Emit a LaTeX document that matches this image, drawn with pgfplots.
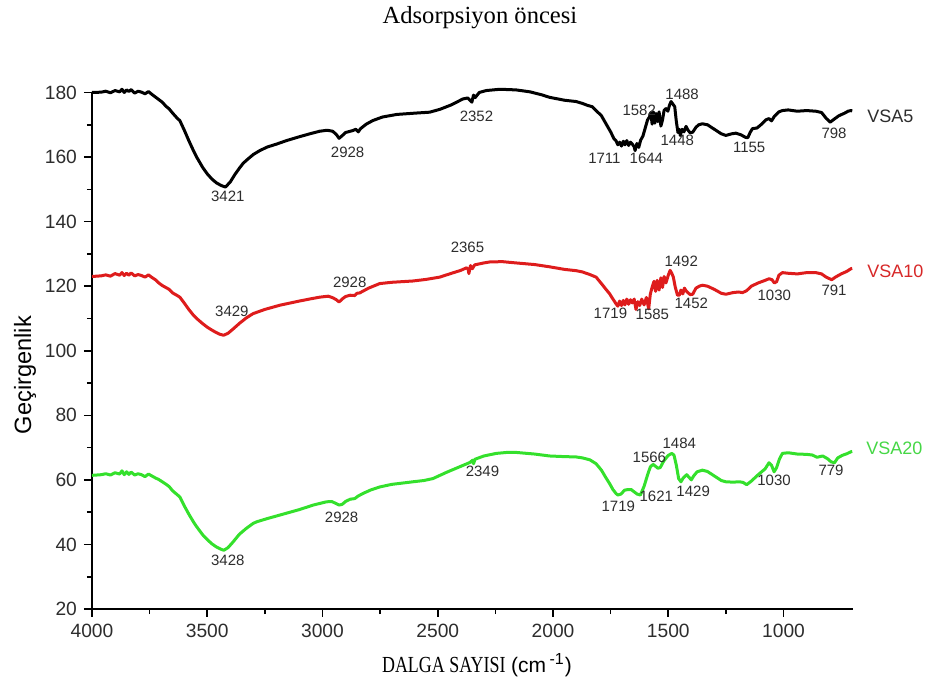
\documentclass[border=0pt]{standalone}
\usepackage{fontspec}
\setmainfont{Liberation Sans}
\newfontfamily\timesfont{Liberation Serif}
\usepackage{graphicx}
\usepackage{pgfplots}
\usepackage{pgfplotstable}
\pgfplotsset{compat=1.18}

\definecolor{specred}{RGB}{222,28,28}
\definecolor{specgreen}{RGB}{52,224,44}
\definecolor{labgreen}{RGB}{70,215,70}
\definecolor{labred}{RGB}{215,40,40}
\definecolor{labgray}{RGB}{45,45,45}

% FTIR spectrum, sample VSA5 (wavenumber, transmittance)
\pgfplotstableread{
wn T
4000 180.0
3960 180.1
3940 180.4
3920 179.9
3900 180.6
3880 180.2
3870 181.0
3860 180.0
3850 180.8
3840 180.3
3830 180.9
3815 179.8
3800 180.4
3785 180.1
3770 179.6
3755 180.3
3740 179.4
3725 178.6
3710 177.8
3695 177.0
3680 175.8
3665 174.9
3650 173.6
3640 172.8
3630 172.0
3619 171.3
3600 168.4
3580 165.1
3560 162.0
3546 160.0
3520 156.8
3500 154.8
3480 153.2
3460 152.0
3440 151.2
3421 150.7
3400 152.3
3380 154.6
3360 156.6
3345 158.0
3330 159.0
3300 160.8
3272 162.0
3240 163.1
3200 164.0
3156 165.1
3100 166.3
3050 167.3
3012 168.0
2980 168.3
2956 168.0
2940 167.0
2928 165.8
2915 166.6
2900 167.6
2869 168.2
2855 168.6
2845 167.8
2835 168.8
2810 170.2
2782 171.3
2740 172.4
2678 173.2
2600 173.6
2535 173.9
2490 174.8
2440 176.2
2391 178.0
2370 178.3
2360 177.6
2352 177.0
2345 179.2
2338 178.4
2320 180.0
2290 180.6
2230 181.0
2160 180.8
2100 180.2
2050 179.3
2015 178.5
1950 177.6
1900 177.2
1872 176.6
1850 176.0
1830 175.6
1813 174.4
1790 172.8
1770 170.3
1750 167.8
1735 165.6
1727 165.1
1719 163.8
1711 164.6
1703 163.4
1695 164.9
1688 163.8
1680 165.1
1672 163.6
1664 164.6
1656 164.0
1648 163.2
1644 162.0
1636 164.2
1628 163.0
1620 165.2
1610 166.5
1600 169.0
1590 171.5
1582 172.4
1576 173.8
1570 170.2
1565 174.0
1558 170.5
1553 173.5
1546 171.0
1540 174.0
1532 169.6
1525 171.5
1518 174.5
1510 175.0
1502 174.2
1495 176.0
1488 177.2
1480 176.4
1472 175.6
1465 171.0
1458 167.6
1452 168.6
1448 166.7
1440 168.6
1432 167.8
1423 169.5
1415 168.4
1405 167.5
1394 167.7
1380 169.2
1368 170.0
1352 170.3
1330 170.0
1300 168.6
1270 167.2
1250 166.7
1225 167.2
1207 167.4
1185 166.9
1165 166.1
1155 166.0
1145 167.6
1135 168.8
1115 169.0
1095 170.2
1075 171.6
1063 171.9
1052 171.2
1040 172.6
1020 174.0
1005 174.4
980 174.6
940 174.2
900 174.4
860 174.2
835 173.8
815 172.0
798 170.8
785 171.5
760 172.8
735 173.6
720 174.2
708 174.4
702 174.3
}\vsafive

% sample VSA10
\pgfplotstableread{
wn T
4000 123.0
3960 123.2
3940 123.5
3920 123.1
3900 123.9
3880 123.4
3870 124.2
3860 123.3
3850 124.0
3840 123.4
3830 124.1
3815 123.2
3800 123.6
3785 123.3
3770 122.8
3755 123.5
3740 122.7
3725 122.0
3710 121.0
3695 120.2
3680 119.6
3665 119.0
3650 117.9
3635 117.3
3619 116.6
3600 114.8
3580 112.8
3560 111.0
3546 110.0
3520 108.4
3500 107.3
3480 106.4
3460 105.6
3445 105.1
3429 104.8
3410 105.4
3390 106.6
3360 108.5
3330 110.2
3301 111.5
3250 112.8
3185 114.1
3100 115.4
3050 116.1
3012 116.6
2975 116.9
2955 116.4
2940 115.8
2928 115.1
2915 116.0
2900 116.8
2880 117.2
2860 117.1
2850 117.8
2839 117.9
2800 119.4
2752 120.8
2700 121.2
2609 121.6
2550 122.1
2492 122.8
2440 124.0
2400 124.9
2375 125.7
2368 125.2
2365 123.9
2358 126.4
2350 125.4
2340 126.6
2300 127.2
2275 127.5
2220 127.6
2160 127.2
2080 126.7
2015 126.0
1950 125.2
1900 124.8
1872 124.4
1840 123.6
1813 122.8
1790 120.8
1770 119.0
1755 117.7
1740 116.0
1727 114.6
1719 113.8
1711 115.4
1703 114.0
1695 115.6
1688 114.2
1680 116.0
1672 114.4
1664 115.8
1656 114.8
1648 116.0
1640 112.8
1632 115.2
1624 114.0
1615 116.0
1605 114.2
1595 116.5
1585 113.0
1578 117.5
1570 119.7
1562 121.5
1555 118.4
1548 121.8
1540 118.8
1532 122.6
1525 119.6
1518 123.0
1510 121.0
1500 123.4
1492 124.9
1485 124.0
1478 122.8
1470 119.8
1460 117.2
1452 117.2
1445 118.8
1437 117.6
1430 119.4
1423 118.6
1415 118.0
1405 117.4
1394 117.5
1380 119.4
1365 120.0
1352 120.3
1330 120.0
1300 119.0
1270 117.8
1250 117.5
1220 118.0
1195 118.2
1178 118.0
1160 118.6
1140 120.0
1110 121.0
1080 121.8
1063 122.3
1050 122.0
1040 121.0
1030 121.4
1020 123.4
1005 124.2
980 124.0
940 123.8
900 124.2
860 124.2
835 123.8
815 122.8
791 122.0
775 122.8
750 123.8
725 124.6
708 125.4
702 125.5
}\vsaten

% sample VSA20
\pgfplotstableread{
wn T
4000 61.4
3960 61.6
3940 61.9
3920 61.5
3900 62.2
3880 61.8
3870 62.8
3860 61.6
3850 62.5
3840 61.7
3830 62.4
3815 61.5
3800 61.9
3785 61.6
3770 61.0
3755 61.8
3740 61.2
3725 60.6
3710 60.1
3695 59.4
3680 58.7
3665 57.9
3650 56.6
3640 56.0
3630 55.4
3619 54.7
3600 52.0
3580 49.4
3560 47.0
3546 45.5
3520 43.0
3500 41.5
3480 40.2
3460 39.2
3440 38.5
3428 38.2
3410 39.0
3390 40.6
3360 43.2
3330 45.0
3301 46.5
3286 47.0
3240 48.0
3185 49.1
3100 50.8
3040 52.2
2983 53.2
2960 53.3
2945 52.8
2928 52.2
2915 52.4
2900 53.3
2880 54.0
2860 54.2
2845 55.0
2824 55.8
2790 56.9
2752 57.8
2700 58.6
2608 59.4
2560 59.8
2521 60.4
2460 62.4
2400 64.2
2360 65.4
2349 66.1
2345 65.0
2338 66.4
2300 67.4
2246 68.2
2200 68.5
2160 68.5
2080 68.0
2015 67.4
1950 67.2
1900 67.1
1872 66.8
1840 66.2
1813 65.0
1790 63.0
1770 60.6
1755 58.9
1740 57.0
1727 55.8
1719 55.3
1705 55.6
1690 56.8
1675 57.0
1661 57.0
1650 56.4
1635 55.6
1621 55.3
1605 58.0
1590 61.5
1578 64.0
1566 64.8
1555 64.2
1545 63.6
1535 63.8
1520 65.8
1500 67.6
1484 68.2
1475 67.6
1465 64.5
1455 60.4
1445 59.4
1435 60.6
1420 61.6
1410 60.8
1400 60.0
1390 61.2
1375 62.5
1352 63.0
1330 62.6
1300 61.2
1270 59.8
1250 59.4
1220 59.3
1190 59.4
1175 59.2
1160 58.5
1140 59.6
1110 61.6
1080 63.4
1063 65.3
1052 64.5
1041 62.5
1030 63.8
1018 66.4
1005 68.2
980 68.4
940 68.0
900 67.9
875 67.7
855 67.0
830 67.4
810 66.6
794 65.6
779 65.3
765 66.8
745 67.6
725 68.1
708 68.7
702 68.8
}\vsatwenty

\begin{document}
\begin{tikzpicture}
\path[use as bounding box] (-46pt,-40pt) rectangle (417.5pt,304.5pt);
\begin{axis}[
  at={(0,0)}, anchor=south west,
  scale only axis, width=380.35pt, height=258.25pt,
  x dir=reverse,
  xmin=700, xmax=4000, ymin=20, ymax=180,
  axis x line*=bottom, axis y line*=left,
  axis line style={line width=0.9pt, -},
  xtick={1000,1500,...,4000}, ytick={20,40,...,180},
  minor x tick num=1, minor y tick num=1,
  tick align=outside,
  major tick length=4pt, minor tick length=2.6pt,
  tick style={line width=0.8pt, black},
  ticklabel style={font=\fontsize{9.6}{10}\selectfont, text=labgray},
  /pgf/number format/assume math mode=true,
  /pgf/number format/1000 sep={},
  clip=false,
]
\addplot[black, line width=1.5pt, line join=round] table[x=wn, y=T] {\vsafive};
\addplot[specred, line width=1.5pt, line join=round] table[x=wn, y=T] {\vsaten};
\addplot[specgreen, line width=1.5pt, line join=round] table[x=wn, y=T] {\vsatwenty};

% peak labels
\begin{scope}[every node/.style={font=\fontsize{7.5}{8}\selectfont, text=labgray, inner sep=0pt}]
\node at (axis cs:3411,147.9) {3421};
\node at (axis cs:2891,161.6) {2928};
\node at (axis cs:2332,172.7) {2352};
\node at (axis cs:1777,159.7) {1711};
\node at (axis cs:1595,159.7) {1644};
\node at (axis cs:1626,174.6) {1582};
\node at (axis cs:1440,179.5) {1488};
\node at (axis cs:1461,165.3) {1448};
\node at (axis cs:1149,163.1) {1155};
\node at (axis cs:781,167.5) {798};

\node at (axis cs:3393,112.3) {3429};
\node at (axis cs:2882,121.3) {2928};
\node at (axis cs:2371,132.1) {2365};
\node at (axis cs:1444,127.7) {1492};
\node at (axis cs:1751,111.6) {1719};
\node at (axis cs:1569,111.3) {1585};
\node at (axis cs:1400,114.8) {1452};
\node at (axis cs:1040,117.3) {1030};
\node at (axis cs:781,118.8) {791};

\node at (axis cs:3411,35.2) {3428};
\node at (axis cs:2917,48.5) {2928};
\node at (axis cs:2306,62.5) {2349};
\node at (axis cs:1582,66.9) {1566};
\node at (axis cs:1452,71.2) {1484};
\node at (axis cs:1717,51.9) {1719};
\node at (axis cs:1552,55.0) {1621};
\node at (axis cs:1392,56.6) {1429};
\node at (axis cs:1041,59.7) {1030};
\node at (axis cs:794,62.8) {779};
\end{scope}

% sample names
\begin{scope}[every node/.style={font=\fontsize{9}{10}\selectfont, anchor=west, inner sep=0pt}]
\node[text=labgray] at (axis cs:638,172.5) {VSA5};
\node[text=labred] at (axis cs:638,124.5) {VSA10};
\node[text=labgreen] at (axis cs:642,69.9) {VSA20};
\end{scope}

% title and axis titles
\node[font=\timesfont\fontsize{12.3}{13}\selectfont] at (rel axis cs:0.51,1.144) {Adsorpsiyon öncesi};
\path (rel axis cs:0,0.453) ++(-33.5pt,0pt) node[rotate=90, font=\fontsize{11.8}{12}\selectfont] {Geçirgenlik};
\path (rel axis cs:0.506,0) ++(0pt,-28pt) node {\scalebox{0.78}[1]{\timesfont\fontsize{11.5}{12}\selectfont DALGA SAYISI} {\fontsize{10.5}{11}\selectfont(cm\,$^{\textrm{\fontsize{8}{9}\selectfont -1}}$)}};
\end{axis}
\end{tikzpicture}
\end{document}
